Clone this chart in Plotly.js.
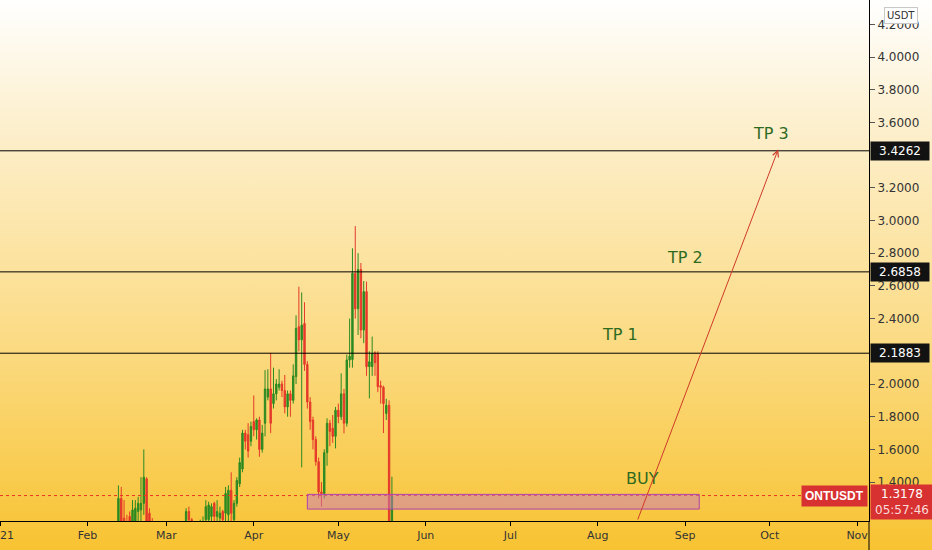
<!DOCTYPE html>
<html>
<head>
<meta charset="utf-8">
<script src="https://cdn.plot.ly/plotly-3.0.1.min.js"></script>
<style>
  html, body { margin: 0; padding: 0; }
  #chart { width: 932px; height: 550px;
    background: linear-gradient(to bottom, #ffffff 0%, #fdf0cf 22%, #fbdc88 60%, #f8c332 100%); }
</style>
</head>
<body>
<div id="chart"></div>
<script>
// ---- data (daily ONT/USDT candles) ----
const dates = [
 '2021-02-10','2021-02-11','2021-02-12','2021-02-13','2021-02-14','2021-02-15','2021-02-16','2021-02-17','2021-02-18','2021-02-19',
 '2021-02-20','2021-02-21','2021-02-22','2021-02-23','2021-02-24','2021-02-25','2021-02-26','2021-02-27','2021-02-28','2021-03-01',
 '2021-03-02','2021-03-03','2021-03-04','2021-03-05','2021-03-06','2021-03-07','2021-03-08','2021-03-09','2021-03-10','2021-03-11',
 '2021-03-12','2021-03-13','2021-03-14','2021-03-15','2021-03-16','2021-03-17','2021-03-18','2021-03-19','2021-03-20','2021-03-21',
 '2021-03-22','2021-03-23','2021-03-24','2021-03-25','2021-03-26','2021-03-27','2021-03-28','2021-03-29','2021-03-30','2021-03-31',
 '2021-04-01','2021-04-02','2021-04-03','2021-04-04','2021-04-05','2021-04-06','2021-04-07','2021-04-08','2021-04-09','2021-04-10',
 '2021-04-11','2021-04-12','2021-04-13','2021-04-14','2021-04-15','2021-04-16','2021-04-17','2021-04-18','2021-04-19','2021-04-20',
 '2021-04-21','2021-04-22','2021-04-23','2021-04-24','2021-04-25','2021-04-26','2021-04-27','2021-04-28','2021-04-29','2021-04-30',
 '2021-05-01','2021-05-02','2021-05-03','2021-05-04','2021-05-05','2021-05-06','2021-05-07','2021-05-08','2021-05-09','2021-05-10',
 '2021-05-11','2021-05-12','2021-05-13','2021-05-14','2021-05-15','2021-05-16','2021-05-17','2021-05-18','2021-05-19','2021-05-20'
];
const open = [
 0.98,1.03,1.10,1.30,1.18,1.14,1.19,1.10,1.16,1.22,
 1.23,1.27,1.42,1.21,1.15,1.05,1.08,1.00,1.04,0.98,
 1.08,1.04,1.09,1.02,1.05,1.07,1.12,1.22,1.17,1.10,
 1.08,1.10,1.12,1.17,1.17,1.19,1.27,1.19,1.18,1.22,
 1.21,1.20,1.35,1.17,1.27,1.39,1.48,1.70,1.69,1.65,
 1.77,1.72,1.78,1.60,1.76,1.92,1.97,1.88,1.94,1.98,
 2.00,1.96,1.86,1.94,1.90,2.045,2.35,2.27,2.37,2.12,
 1.89,1.78,1.66,1.525,1.34,1.33,1.58,1.76,1.73,1.68,
 1.84,1.80,1.94,1.76,2.147,2.15,2.677,2.46,2.70,2.33,
 2.565,2.106,2.106,2.19,2.187,1.99,1.98,1.82,1.87,1.10
];
const high = [
 1.06,1.15,1.38,1.37,1.29,1.20,1.22,1.29,1.29,1.31,
 1.43,1.60,1.43,1.24,1.18,1.12,1.11,1.08,1.06,1.10,
 1.12,1.13,1.12,1.08,1.10,1.14,1.24,1.25,1.18,1.13,
 1.14,1.17,1.19,1.29,1.28,1.27,1.28,1.29,1.25,1.23,
 1.37,1.38,1.46,1.29,1.43,1.55,1.72,1.72,1.76,1.77,
 1.93,1.79,1.80,1.75,2.085,2.09,2.19,2.10,2.03,2.09,
 2.02,2.055,1.96,1.96,2.12,2.42,2.595,2.56,2.50,2.14,
 1.92,1.80,1.68,1.55,1.40,1.60,1.79,1.78,1.81,1.86,
 1.88,2.065,1.97,2.18,2.40,2.83,2.966,2.80,2.74,2.63,
 2.626,2.20,2.29,2.20,2.20,2.02,1.99,1.91,1.90,1.433
];
const low = [
 0.95,1.00,1.05,1.10,1.05,1.02,1.00,1.02,1.08,1.10,
 1.15,1.20,1.10,1.05,1.00,0.98,0.96,0.97,0.92,0.97,
 1.01,1.02,0.99,0.97,1.01,1.04,1.05,1.10,1.02,1.02,
 1.03,1.05,1.08,1.12,1.10,1.12,1.15,1.14,1.12,1.12,
 1.15,1.15,1.16,1.12,1.25,1.37,1.46,1.60,1.55,1.62,
 1.68,1.66,1.555,1.58,1.68,1.90,1.70,1.85,1.90,1.96,
 1.92,1.82,1.80,1.80,1.88,2.00,2.20,1.49,2.08,1.85,
 1.72,1.60,1.50,1.30,1.25,1.30,1.50,1.62,1.64,1.606,
 1.76,1.78,1.698,1.74,2.10,2.10,2.40,2.30,2.28,2.25,
 2.05,1.912,2.05,2.05,1.95,1.88,1.70,1.78,0.85,1.05
];
const close = [
 1.03,1.10,1.30,1.13,1.14,1.10,1.16,1.23,1.24,1.27,
 1.27,1.43,1.16,1.15,1.05,1.08,1.00,1.04,0.98,1.08,
 1.04,1.09,1.02,1.05,1.07,1.12,1.22,1.17,1.10,1.08,
 1.10,1.12,1.15,1.25,1.26,1.25,1.19,1.22,1.21,1.17,
 1.33,1.35,1.21,1.27,1.41,1.52,1.70,1.65,1.59,1.74,
 1.72,1.78,1.60,1.70,1.97,1.97,1.76,1.94,2.00,2.00,
 1.96,1.86,1.94,1.90,2.05,2.34,2.27,2.36,2.12,1.89,
 1.77,1.66,1.525,1.34,1.33,1.58,1.76,1.71,1.68,1.84,
 1.80,1.94,1.76,2.147,2.17,2.677,2.46,2.70,2.33,2.565,
 2.106,2.136,2.187,2.13,1.983,1.98,1.88,1.87,1.10,1.3178
];

const levels = [3.4262, 2.6858, 2.1883];
const levelText = ['3.4262', '2.6858', '2.1883'];
const lastPrice = 1.3178;
const lastPriceText = '1.3178';
const countdown = '05:57:46';
const symbol = 'ONTUSDT';
const currency = 'USDT';

const noteText = ['TP 1', 'TP 2', 'TP 3', 'BUY'];
const noteDates = ['2021-08-09', '2021-09-01', '2021-10-01 12:00', '2021-08-17'];
const notePrices = [2.30, 2.771, 3.535, 1.425];

const zoneDates = ['2021-04-20', '2021-09-06'];
const zonePrices = [1.235, 1.325];

const arrowDates = ['2021-08-15', '2021-10-04'];
const arrowPrices = [1.162, 3.435];

const monthTicks = ['2021-01-01','2021-02-01','2021-03-01','2021-04-01','2021-05-01','2021-06-01',
                    '2021-07-01','2021-08-01','2021-09-01','2021-10-01','2021-11-01'];
const monthLabels = ['2021','Feb','Mar','Apr','May','Jun','Jul','Aug','Sep','Oct','Nov'];
// price ticks that are not hidden behind the price labels
const priceTicks = [1.4,1.6,1.8,2.0,2.4,2.6,2.8,3.0,3.2,3.6,3.8,4.0,4.2];

// ---- styling ----
const GREEN = '#2b8a22';
const RED = '#e5392a';
const LABEL_RED = '#d83131';
const TEXT_GREEN = '#2d6a1f';
const FONT = 'DejaVu Sans, Verdana, sans-serif';

const trace = {
  type: 'candlestick',
  x: dates, open: open, high: high, low: low, close: close,
  increasing: { line: { color: GREEN, width: 1 }, fillcolor: GREEN },
  decreasing: { line: { color: RED, width: 1 }, fillcolor: RED },
  whiskerwidth: 0,
  hoverinfo: 'skip'
};

const shapes = [];
levels.forEach(v => shapes.push({
  type: 'line', xref: 'paper', x0: 0, x1: 1, yref: 'y', y0: v, y1: v,
  line: { color: '#000', width: 1 }
}));
shapes.push({
  type: 'line', xref: 'paper', x0: 0, x1: 1, yref: 'y', y0: lastPrice, y1: lastPrice,
  line: { color: '#ee3322', width: 1, dash: 'dot' }
});
shapes.push({
  type: 'rect', xref: 'x', yref: 'y',
  x0: zoneDates[0], x1: zoneDates[1], y0: zonePrices[0], y1: zonePrices[1],
  fillcolor: 'rgba(200,120,190,0.5)', line: { color: '#b040b0', width: 1 }, layer: 'above'
});
shapes.push({
  type: 'line', xref: 'paper', yref: 'paper', x0: 1, x1: 1, y0: -0.06, y1: 0,
  line: { color: '#000', width: 1 }
});

const annotations = [];
noteText.forEach((t, i) => annotations.push({
  text: t, x: noteDates[i], y: notePrices[i], xref: 'x', yref: 'y', showarrow: false,
  font: { family: FONT, size: 16, color: TEXT_GREEN }
}));
annotations.push({
  text: '', x: arrowDates[1], y: arrowPrices[1], ax: arrowDates[0], ay: arrowPrices[0],
  xref: 'x', yref: 'y', axref: 'x', ayref: 'y', showarrow: true,
  arrowhead: 5, arrowsize: 1.2, arrowwidth: 1, arrowcolor: '#cf3a28', standoff: 0
});
levels.forEach((v, i) => annotations.push({
  text: levelText[i], xref: 'paper', x: 1, xanchor: 'left', xshift: 1,
  yref: 'y', y: v, yanchor: 'middle', showarrow: false,
  bgcolor: '#121212', borderpad: 2, width: 54,
  font: { family: FONT, size: 12, color: '#ffffff' }
}));
annotations.push({
  text: lastPriceText + '<br><span style="color:#fbdada">' + countdown + '</span>',
  xref: 'paper', x: 1, xanchor: 'left', xshift: 1,
  yref: 'y', y: lastPrice, yanchor: 'top', yshift: 12, showarrow: false,
  bgcolor: LABEL_RED, borderpad: 2, width: 58, align: 'center',
  font: { family: FONT, size: 12, color: '#ffffff' }
});
annotations.push({
  text: '<b>' + symbol + '</b>', xref: 'paper', x: 1, xanchor: 'right', xshift: -1,
  yref: 'y', y: lastPrice, yanchor: 'middle', showarrow: false,
  bgcolor: LABEL_RED, borderpad: 3,
  font: { family: 'Liberation Sans, Arial, sans-serif', size: 12, color: '#ffffff' }
});
annotations.push({
  text: currency, xref: 'paper', x: 1, xanchor: 'left', xshift: 15,
  yref: 'paper', y: 1, yanchor: 'top', yshift: -7, showarrow: false,
  bgcolor: '#ffffff', bordercolor: '#c8c8c8', borderwidth: 1, borderpad: 2,
  font: { family: FONT, size: 10, color: '#333' }
});

const layout = {
  width: 932, height: 550,
  margin: { l: 0, r: 63, t: 0, b: 29, pad: 0 },
  paper_bgcolor: 'rgba(0,0,0,0)', plot_bgcolor: 'rgba(0,0,0,0)',
  showlegend: false,
  xaxis: {
    type: 'date', range: ['2021-01-01', '2021-11-05 05:00'],
    tickvals: monthTicks, ticktext: monthLabels, tickmode: 'array',
    ticks: 'outside', ticklen: 4, tickcolor: '#000',
    showline: true, linecolor: '#000', linewidth: 1,
    showgrid: false, zeroline: false,
    rangeslider: { visible: false },
    ticklabeloverflow: 'allow',
    tickfont: { family: FONT, size: 11, color: '#333' }
  },
  yaxis: {
    side: 'right', range: [1.1621, 4.3486],
    tickvals: priceTicks, tickmode: 'array', tickformat: '.4f',
    ticks: 'outside', ticklen: 5, tickcolor: '#555',
    showline: true, linecolor: '#000', linewidth: 1,
    showgrid: false, zeroline: false,
    tickfont: { family: FONT, size: 12, color: '#333' }
  },
  shapes: shapes,
  annotations: annotations
};

Plotly.newPlot('chart', [trace], layout, { displayModeBar: false, staticPlot: true });
</script>
</body>
</html>
